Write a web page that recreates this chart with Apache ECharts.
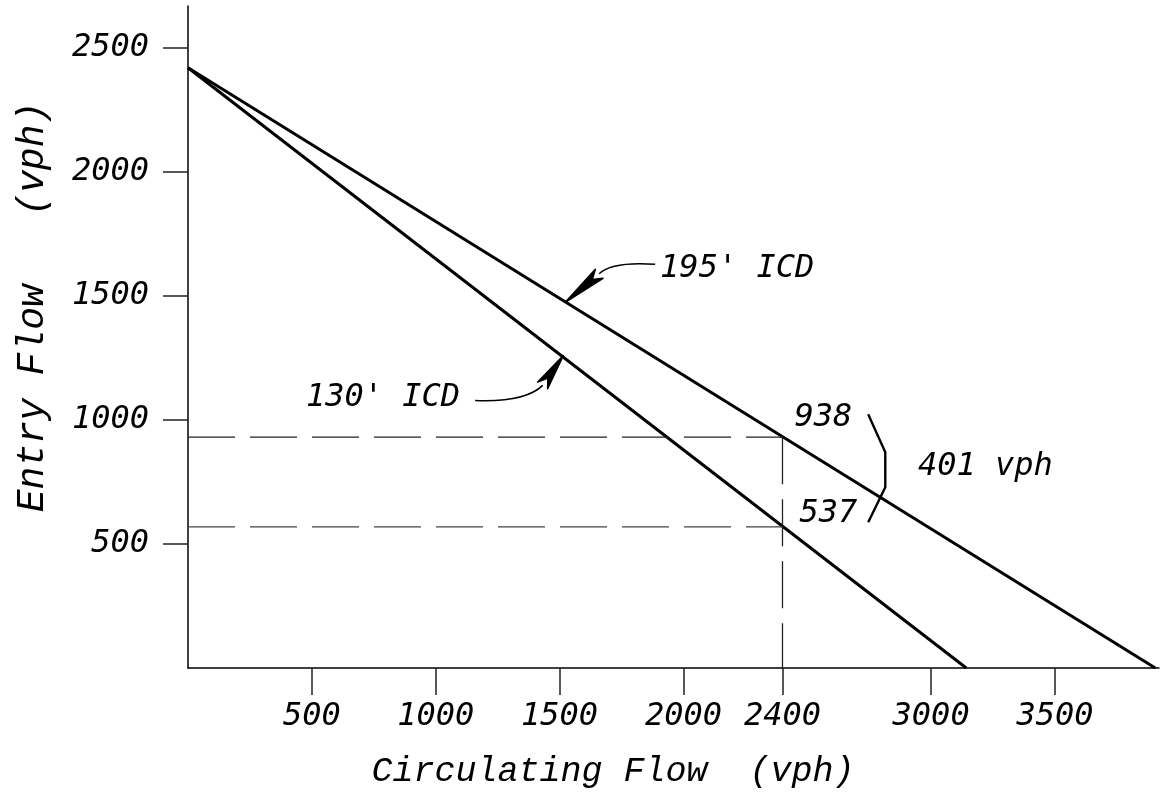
<!DOCTYPE html>
<html>
<head>
<meta charset="utf-8">
<script src="https://cdn.jsdelivr.net/npm/echarts@6/dist/echarts.min.js"></script>
<style>
  html, body { margin: 0; padding: 0; background: #fff; }
  #chart { width: 1168px; height: 803px; }
</style>
</head>
<body>
<div id="chart"></div>
<script>
// data (vph)
const xTicks = [500, 1000, 1500, 2000, 2400, 3000, 3500]
const yTicks = [500, 1000, 1500, 2000, 2500]
const icd195 = [[0, 2421], [3905, 0]]
const icd130 = [[0, 2421], [3142, 0]]
const checkX = 2400
const flow195 = 931 // where 195' line meets 2400
const flow130 = 569 // where 130' line meets 2400
const bracket = [[2746, 1023], [2815, 870], [2815, 729], [2746, 588]]

// text notes in data coords
const notes = [
  { text: "195' ICD", at: [2217, 1612] },
  { text: "130' ICD", at: [787, 1092] },
  { text: '938', at: [2565, 1011] },
  { text: '537', at: [2585, 624] },
  { text: '401 vph', at: [3219, 813] }
]
// leader curves: start, control, end, arrow tip
const leaders = [
  { pts: [[1886, 1628], [1712, 1640], [1660, 1590]], tip: [1523, 1475] },
  { pts: [[1159, 1079], [1361, 1071], [1432, 1140]], tip: [1515, 1260] }
]

const tickFont = 'DejaVu Sans Mono'
const titleFont = 'Liberation Mono'

const chart = echarts.init(document.getElementById('chart'))

const dash = [47, 15]
const option = {
  animation: false,
  backgroundColor: '#fff',
  grid: { left: 188, right: 9, top: 6, bottom: 135 },
  xAxis: {
    type: 'value',
    min: 0,
    max: 3920,
    interval: 500,
    splitLine: { show: false },
    axisLine: { lineStyle: { color: '#000', width: 1.5 } },
    axisTick: { show: true, length: 27, customValues: xTicks, lineStyle: { color: '#222', width: 1.5 } },
    axisLabel: {
      customValues: xTicks,
      formatter: v => String(v),
      margin: 33,
      color: '#000',
      fontFamily: tickFont,
      fontStyle: 'italic',
      fontSize: 32
    }
  },
  yAxis: {
    type: 'value',
    min: 0,
    max: 2670,
    interval: 500,
    splitLine: { show: false },
    axisLine: { lineStyle: { color: '#000', width: 1.5 } },
    axisTick: { show: true, length: 25, customValues: yTicks, lineStyle: { color: '#222', width: 1.5 } },
    axisLabel: {
      customValues: yTicks,
      formatter: v => String(v),
      margin: 39,
      color: '#000',
      fontFamily: tickFont,
      fontStyle: 'italic',
      fontSize: 32
    }
  },
  series: [
    {
      name: "195' ICD",
      type: 'line',
      data: icd195,
      symbol: 'none',
      lineStyle: { color: '#000', width: 3 }
    },
    {
      name: "130' ICD",
      type: 'line',
      data: icd130,
      symbol: 'none',
      lineStyle: { color: '#000', width: 3 }
    },
    {
      type: 'line',
      data: [[0, flow195], [checkX, flow195]],
      symbol: 'none',
      lineStyle: { color: '#222', width: 1.3, type: dash }
    },
    {
      type: 'line',
      data: [[0, flow130], [checkX, flow130]],
      symbol: 'none',
      lineStyle: { color: '#444', width: 1.3, type: dash }
    },
    {
      type: 'line',
      data: [[checkX, flow195], [checkX, 0]],
      symbol: 'none',
      lineStyle: { color: '#222', width: 1.3, type: dash }
    },
    {
      type: 'line',
      data: bracket,
      symbol: 'none',
      lineStyle: { color: '#000', width: 2.4 }
    }
  ]
}
chart.setOption(option)

// annotations placed through the grid's own scale
const px = p => chart.convertToPixel({ gridIndex: 0 }, p)
const elements = []

notes.forEach(n => {
  const p = px(n.at)
  elements.push({
    type: 'text',
    x: p[0],
    y: p[1],
    style: {
      text: n.text,
      fill: '#000',
      font: 'italic 32px "' + tickFont + '"',
      align: 'center',
      verticalAlign: 'middle'
    }
  })
})

leaders.forEach(l => {
  const a = px(l.pts[0])
  const c = px(l.pts[1])
  const b = px(l.pts[2])
  const t = px(l.tip)
  elements.push({
    type: 'bezierCurve',
    shape: { x1: a[0], y1: a[1], x2: b[0], y2: b[1], cpx1: c[0], cpy1: c[1] },
    style: { stroke: '#000', lineWidth: 1.5, fill: null }
  })
  // arrow head from curve end to tip
  const dx = t[0] - b[0]
  const dy = t[1] - b[1]
  const len = Math.sqrt(dx * dx + dy * dy)
  const ux = dx / len
  const uy = dy / len
  const nx = -uy
  const ny = ux
  const w = 6
  const notch = [b[0] + ux * 9, b[1] + uy * 9]
  elements.push({
    type: 'polygon',
    shape: {
      points: [
        t,
        [b[0] + nx * w, b[1] + ny * w],
        notch,
        [b[0] - nx * w, b[1] - ny * w]
      ]
    },
    style: { fill: '#000', stroke: '#000', lineWidth: 1.5, lineJoin: 'round' }
  })
})

// axis titles
elements.push({
  type: 'text',
  x: 613,
  y: 772,
  style: {
    text: 'Circulating Flow  (vph)',
    fill: '#000',
    font: 'italic 35px "' + titleFont + '"',
    align: 'center',
    verticalAlign: 'middle'
  }
})
elements.push({
  type: 'text',
  x: 33,
  y: 307,
  rotation: Math.PI / 2,
  style: {
    text: 'Entry Flow   (vph)',
    fill: '#000',
    font: 'italic 38px "' + titleFont + '"',
    align: 'center',
    verticalAlign: 'middle'
  }
})

chart.setOption({ graphic: { elements: elements } })
</script>
</body>
</html>
